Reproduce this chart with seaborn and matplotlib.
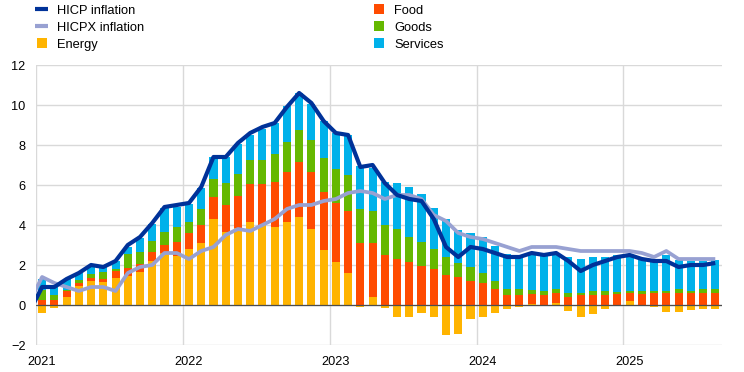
import numpy as np
import pandas as pd
import matplotlib
matplotlib.use("Agg")
import matplotlib.pyplot as plt
import seaborn as sns
from matplotlib.lines import Line2D

# ---------------- data (percentage points / % yoy) ----------------
year_labels = ["2021", "2022", "2023", "2024", "2025"]

# contributions, Jan 2021 .. Aug 2025
energy = [-0.40, -0.17, 0.42, 0.95, 1.20, 1.15, 1.33, 1.44, 1.64, 2.20, 2.62, 2.44,
          2.78, 3.12, 4.32, 3.67, 3.87, 4.17, 4.00, 3.92, 4.17, 4.42, 3.82, 2.77,
          2.17, 1.62, -0.08, 0.38, -0.13, -0.58, -0.62, -0.38, -0.58, -1.48, -1.43, -0.68,
          -0.62, -0.38, -0.18, -0.08, 0.03, 0.02, 0.12, -0.32, -0.60, -0.45, -0.22, 0.01,
          0.18, 0.02, -0.12, -0.37, -0.37, -0.27, -0.22, -0.18]
food = [0.27, 0.27, 0.27, 0.17, 0.13, 0.17, 0.35, 0.42, 0.43, 0.45, 0.38, 0.73,
        0.82, 0.90, 1.10, 1.35, 1.60, 1.90, 2.07, 2.25, 2.50, 2.75, 2.85, 2.90,
        2.92, 3.10, 3.12, 2.73, 2.52, 2.32, 2.17, 1.97, 1.78, 1.48, 1.38, 1.18,
        1.12, 0.78, 0.52, 0.52, 0.52, 0.48, 0.47, 0.42, 0.48, 0.52, 0.52, 0.52,
        0.43, 0.52, 0.58, 0.58, 0.62, 0.58, 0.62, 0.62]
goods = [0.50, 0.25, 0.08, 0.12, 0.22, 0.33, 0.13, 0.67, 0.57, 0.55, 0.67, 0.75,
         0.53, 0.78, 0.90, 1.07, 1.10, 1.17, 1.20, 1.37, 1.47, 1.60, 1.60, 1.68,
         1.73, 1.77, 1.70, 1.60, 1.50, 1.47, 1.25, 1.20, 1.03, 0.90, 0.73, 0.70,
         0.50, 0.40, 0.30, 0.27, 0.20, 0.20, 0.20, 0.17, 0.10, 0.17, 0.17, 0.10,
         0.10, 0.17, 0.13, 0.13, 0.17, 0.13, 0.17, 0.17]
services = [0.53, 0.50, 0.53, 0.38, 0.42, 0.25, 0.38, 0.38, 0.72, 0.83, 1.20, 1.00,
            0.93, 1.05, 1.08, 1.32, 1.50, 1.28, 1.55, 1.57, 1.80, 1.83, 1.78, 1.83,
            1.78, 2.00, 2.12, 2.13, 2.15, 2.30, 2.50, 2.40, 2.05, 1.93, 1.65, 1.70,
            1.77, 1.75, 1.75, 1.65, 1.80, 1.80, 1.82, 1.83, 1.73, 1.73, 1.73, 1.87,
            1.77, 1.60, 1.53, 1.80, 1.45, 1.50, 1.43, 1.47]

# headline lines, Dec 2020 .. Aug 2025
hicp = [-0.3,
        0.9, 0.9, 1.3, 1.6, 2.0, 1.9, 2.2, 3.0, 3.4, 4.1, 4.9, 5.0,
        5.1, 5.9, 7.4, 7.4, 8.1, 8.6, 8.9, 9.1, 9.9, 10.6, 10.1, 9.2,
        8.6, 8.5, 6.9, 7.0, 6.1, 5.5, 5.3, 5.2, 4.3, 2.9, 2.4, 2.9,
        2.8, 2.6, 2.4, 2.4, 2.6, 2.5, 2.6, 2.2, 1.7, 2.0, 2.2, 2.4,
        2.5, 2.3, 2.2, 2.2, 1.9, 2.0, 2.0, 2.1]
hicpx = [0.2,
         1.4, 1.1, 0.9, 0.7, 0.9, 0.9, 0.7, 1.6, 1.9, 2.0, 2.6, 2.6,
         2.3, 2.7, 2.9, 3.5, 3.8, 3.7, 4.0, 4.3, 4.8, 5.0, 5.0, 5.2,
         5.3, 5.6, 5.7, 5.6, 5.3, 5.5, 5.5, 5.3, 4.5, 4.2, 3.6, 3.4,
         3.3, 3.1, 2.9, 2.7, 2.9, 2.9, 2.9, 2.8, 2.7, 2.7, 2.7, 2.7,
         2.7, 2.6, 2.4, 2.7, 2.3, 2.3, 2.3, 2.3]

# ---------------- styling ----------------
C_ENERGY = "#FFB400"
C_FOOD = "#FF4B00"
C_GOODS = "#65B800"
C_SERV = "#00B1EA"
C_HICP = "#003299"
C_HICPX = "#98A1D2"
GRID = "#D9D9D9"

sns.set_theme(style="white")
plt.rcParams["font.family"] = ["Liberation Sans", "DejaVu Sans"]

n = len(energy)
df = pd.DataFrame({
    "pos": np.arange(n),
    "energy": energy, "food": food, "goods": goods, "services": services,
})
base_food = np.maximum(df["energy"].to_numpy(), 0)
base_goods = base_food + df["food"].to_numpy()
base_serv = base_goods + df["goods"].to_numpy()

lines = pd.DataFrame({"pos": np.arange(-1, n), "hicp": hicp, "hicpx": hicpx})

fig = plt.figure(figsize=(7.44, 3.72), dpi=100)
ax = fig.add_axes([36 / 744, 27 / 372, 686 / 744, 280 / 372])

bar_kw = dict(native_scale=True, width=0.66, saturation=1, errorbar=None,
              linewidth=0, edgecolor="none", ax=ax, zorder=2)
sns.barplot(data=df, x="pos", y="energy", color=C_ENERGY, **bar_kw)
sns.barplot(data=df, x="pos", y="food", color=C_FOOD, bottom=base_food, **bar_kw)
sns.barplot(data=df, x="pos", y="goods", color=C_GOODS, bottom=base_goods, **bar_kw)
sns.barplot(data=df, x="pos", y="services", color=C_SERV, bottom=base_serv, **bar_kw)

ax.axhline(0, color="#4D4D4D", lw=0.9, zorder=3)

sns.lineplot(data=lines, x="pos", y="hicp", color=C_HICP, lw=3.0, ax=ax,
             zorder=5, solid_joinstyle="round", solid_capstyle="butt")
sns.lineplot(data=lines, x="pos", y="hicpx", color=C_HICPX, lw=2.7, ax=ax,
             zorder=4, solid_joinstyle="round", solid_capstyle="butt")

ax.set_xlim(-0.5, 55.55)
ax.set_ylim(-2, 12)
ax.set_yticks(np.arange(-2, 13, 2))
ax.set_xticks([0, 12, 24, 36, 48])
ax.set_xticklabels(year_labels)
ax.set_xticks([-0.5, 11.5, 23.5, 35.5, 47.5], minor=True)
ax.set_xlabel("")
ax.set_ylabel("")
for s in ax.spines.values():
    s.set_visible(False)
ax.set_axisbelow(True)
ax.grid(axis="y", which="major", color=GRID, lw=1.0)
ax.grid(axis="x", which="minor", color=GRID, lw=1.0)
ax.grid(axis="x", which="major", visible=False)
ax.tick_params(axis="both", which="both", length=0, labelsize=9.2, colors="#000000")
ax.tick_params(axis="y", pad=7.5)
ax.tick_params(axis="x", pad=8)

# ---------------- legend ----------------
leg_kw = dict(frameon=False, fontsize=9.3, handlelength=1.02, handletextpad=0.7,
              labelspacing=0.4, borderpad=0, borderaxespad=0, loc="upper left")
h_left = [
    Line2D([], [], color=C_HICP, lw=3.0, solid_capstyle="butt"),
    Line2D([], [], color=C_HICPX, lw=3.0, solid_capstyle="butt"),
    Line2D([], [], color=C_ENERGY, marker="s", ls="none", markersize=7.2, markeredgewidth=0),
]
h_right = [
    Line2D([], [], color=C_FOOD, marker="s", ls="none", markersize=7.2, markeredgewidth=0),
    Line2D([], [], color=C_GOODS, marker="s", ls="none", markersize=7.2, markeredgewidth=0),
    Line2D([], [], color=C_SERV, marker="s", ls="none", markersize=7.2, markeredgewidth=0),
]
l1 = fig.legend(h_left, ["HICP inflation", "HICPX inflation", "Energy"],
                bbox_to_anchor=(35 / 744, 1 - 4.5 / 372), **leg_kw)
l2 = fig.legend(h_right, ["Food", "Goods", "Services"],
                bbox_to_anchor=(372 / 744, 1 - 4.5 / 372), **leg_kw)
for lg in (l1, l2):
    for t in lg.get_texts():
        t.set_color("#000000")

fig.savefig("out.png", dpi=100)
